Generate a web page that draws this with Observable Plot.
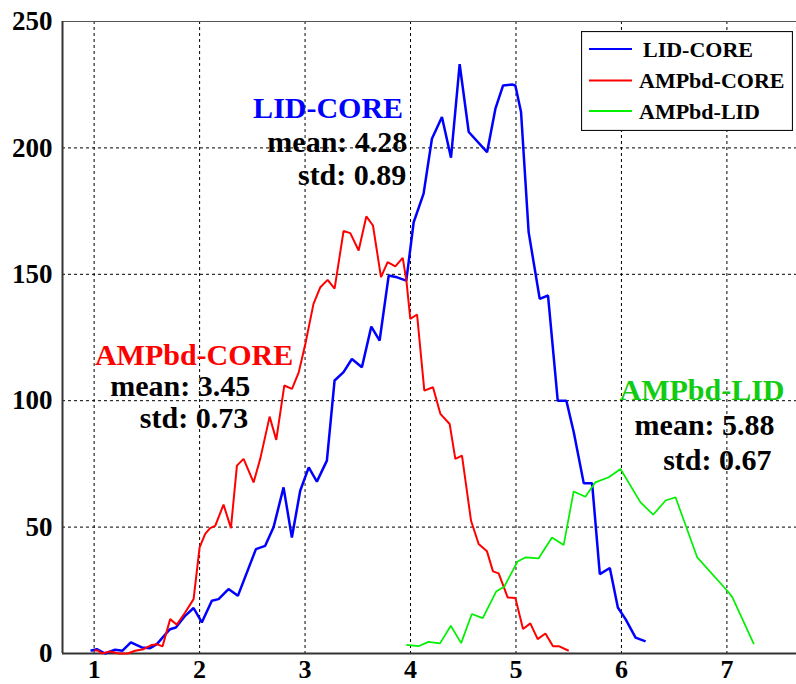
<!DOCTYPE html>
<html>
<head>
<meta charset="utf-8">
<script src="https://cdn.jsdelivr.net/npm/d3@7"></script>
<script src="https://cdn.jsdelivr.net/npm/@observablehq/plot@0.6"></script>
<style>
  html, body { margin: 0; padding: 0; background: #fff; }
  #chart { position: relative; width: 796px; height: 684px; overflow: hidden;
           font-family: "Liberation Serif", "Times New Roman", serif; }
  #legend { position: absolute; left: 581px; top: 31px; }
</style>
</head>
<body>
<div id="chart"><div id="legend"></div></div>
<script>
// Distance histograms (counts per bin) for the three domain pairs.
const lidCoreX = [0.966,1.025,1.104,1.199,1.269,1.348,1.452,1.531,1.595,1.69,1.72,1.775,1.863,1.943,2.021,2.116,2.18,2.274,2.363,2.449,2.534,2.622,2.701,2.796,2.875,2.954,3.035,3.112,3.207,3.28,3.365,3.444,3.539,3.628,3.707,3.793,3.872,3.96,4.03,4.124,4.203,4.298,4.384,4.466,4.552,4.726,4.805,4.878,4.963,4.994,5.048,5.12,5.225,5.304,5.396,5.478,5.548,5.643,5.722,5.795,5.89,5.966,6.039,6.134,6.229];
const lidCoreY = [1.1,1.7,0,1.5,1.1,4.4,2.4,2.1,3.7,8.3,9.6,10.3,14.9,18,12.3,20.9,21.5,25.5,22.8,32.1,41.3,42.6,49.9,65.7,45.9,64.4,73.6,68,76.3,108,111.3,116.5,113.2,129.3,123.8,149.5,148.8,147.5,170.6,181.9,203.6,212.2,196.1,233.1,206.3,198.3,215.5,224.7,225.1,224.7,214.2,166.7,140.3,141.6,100,100,87.5,67.3,67.3,31.4,33.8,18.2,13.6,6.3,4.8];

const ampCoreX = [1.003,1.041,1.073,1.152,1.231,1.319,1.389,1.468,1.547,1.595,1.648,1.721,1.784,1.863,1.943,2.0,2.053,2.1,2.148,2.227,2.297,2.354,2.417,2.512,2.575,2.664,2.727,2.803,2.876,2.94,3.003,3.08,3.145,3.214,3.28,3.365,3.429,3.508,3.581,3.644,3.72,3.783,3.856,3.926,3.961,3.998,4.062,4.131,4.213,4.283,4.371,4.425,4.488,4.574,4.646,4.725,4.782,4.836,4.921,4.994,5.067,5.136,5.206,5.279,5.351,5.405,5.5];
const ampCoreY = [1.3,1.1,0,0.8,0,0,1.1,1.7,3.4,3.7,2.8,13.6,11.4,16.2,21.5,42,47.3,49.6,50.5,58.9,49.6,74.3,77,67.7,77,93.7,84.5,106,104.7,111.2,122.5,138.3,144.9,147.8,144.3,167.1,166.3,159.4,172.9,169.3,148.9,154.8,153.1,156.5,147.5,132.4,134.1,104,105.3,94.8,90.8,77,78.3,52.5,43.3,40.4,32.5,31.7,22.2,22,9.7,11.9,5.7,7.9,2.9,2.9,1.1];

const ampLidX = [3.96,4.075,4.17,4.28,4.382,4.48,4.581,4.685,4.812,4.888,5.015,5.088,5.214,5.341,5.452,5.547,5.658,5.753,5.88,5.991,6.181,6.301,6.418,6.513,6.719,7.003,7.05,7.256];
const ampLidY = [3.4,2.9,4.6,4,11,4.1,15.6,14,24.5,26.4,36.4,38,37.6,45.9,42.9,64.1,62,67.7,69.7,73,59.8,54.9,60.5,61.8,38,24.8,22.4,3.7];

const seriesNames = ["LID-CORE", "AMPbd-CORE", "AMPbd-LID"];
const seriesColors = ["#0000ff", "#ff0000", "#00f000"];
const labelColors = ["#0000ff", "#ff0000", "#11cc11"];
const seriesWidths = [2.5, 2, 1.7];

// Summary statistics written next to each curve.
const means = ["4.28", "3.45", "5.88"];
const stds = ["0.89", "0.73", "0.67"];
// Right-edge anchors of the title / mean / std lines, in data units.
const titleAnchorX = [3.93, 2.888, 7.546];
const titleAnchorY = [215.6, 117.9, 104];
const meanAnchorX = [3.97, 2.48, 7.452];
const meanAnchorY = [202.2, 105.6, 90.1];
const stdAnchorX = [3.96, 2.461, 7.423];
const stdAnchorY = [189.1, 92.9, 76.3];

const xDomain = [0.7, 7.66];
const yDomain = [0, 250];
const xTicks = [1, 2, 3, 4, 5, 6, 7];
const yTicks = [0, 50, 100, 150, 200, 250];
const yGrid = [50, 100, 150, 200];

const seriesXs = [lidCoreX, ampCoreX, ampLidX];
const seriesYs = [lidCoreY, ampCoreY, ampLidY];

const curves = seriesNames.map((name, k) =>
  seriesXs[k].map((x, i) => ({series: name, x, y: seriesYs[k][i]})));

const annotations = seriesNames.flatMap((name, k) => [
  {x: titleAnchorX[k], y: titleAnchorY[k], text: name, fill: labelColors[k]},
  {x: meanAnchorX[k], y: meanAnchorY[k], text: `mean: ${means[k]}`, fill: "#000"},
  {x: stdAnchorX[k], y: stdAnchorY[k], text: `std: ${stds[k]}`, fill: "#000"}
]);

const serif = "'Liberation Serif', 'Times New Roman', serif";

const chart = Plot.plot({
  width: 796,
  height: 684,
  marginLeft: 62,
  marginRight: 0,
  marginTop: 21,
  marginBottom: 31,
  style: {fontFamily: serif, fontWeight: "bold", background: "#fff", overflow: "visible"},
  x: {domain: xDomain},
  y: {domain: yDomain},
  marks: [
    // dotted grid
    Plot.ruleX(xTicks, {stroke: "#000", strokeWidth: 1, strokeDasharray: "3,3"}),
    Plot.ruleY(yGrid, {stroke: "#000", strokeWidth: 1, strokeDasharray: "3,3"}),
    // axes box
    Plot.ruleY([yDomain[1]], {stroke: "#555", strokeWidth: 1.2}),
    Plot.ruleY([yDomain[0]], {stroke: "#333", strokeWidth: 2}),
    Plot.ruleX([xDomain[0]], {stroke: "#333", strokeWidth: 2}),
    // histogram curves
    ...curves.map((c, k) => Plot.line(c, {
      x: "x", y: "y", stroke: seriesColors[k], strokeWidth: seriesWidths[k],
      strokeLinejoin: "miter", strokeLinecap: "butt"
    })),
    Plot.axisX(xTicks, {tickSize: 0, tickPadding: 6, label: null,
      fontSize: 26, fontWeight: "bold", fontFamily: serif, fill: "#000"}),
    Plot.axisY(yTicks, {tickSize: 0, tickPadding: 10, label: null,
      fontSize: 27, fontWeight: "bold", fontFamily: serif, fill: "#000"}),
    Plot.text(annotations, {
      x: "x", y: "y", text: "text", fill: "fill",
      textAnchor: "end", lineAnchor: "middle",
      fontSize: 30, fontWeight: "bold", fontFamily: serif
    })
  ]
});
document.getElementById("chart").prepend(chart);

// Legend box with line swatches
const lg = d3.select("#legend").append("svg")
  .attr("width", 212).attr("height", 100)
  .style("display", "block");
lg.append("rect").attr("x", 0.5).attr("y", 0.5).attr("width", 211).attr("height", 99)
  .attr("fill", "#fff").attr("stroke", "#111").attr("stroke-width", 1.2);
const rowY = [18, 49.5, 80];
seriesNames.forEach((name, k) => {
  lg.append("line").attr("x1", 8).attr("x2", 51).attr("y1", rowY[k]).attr("y2", rowY[k])
    .attr("stroke", seriesColors[k]).attr("stroke-width", 2);
  lg.append("text").attr("x", k === 0 ? 62 : 58).attr("y", rowY[k]).attr("dy", "0.35em")
    .attr("font-family", serif).attr("font-weight", "bold").attr("font-size", 22)
    .attr("fill", "#000").text(name);
});
</script>
</body>
</html>
